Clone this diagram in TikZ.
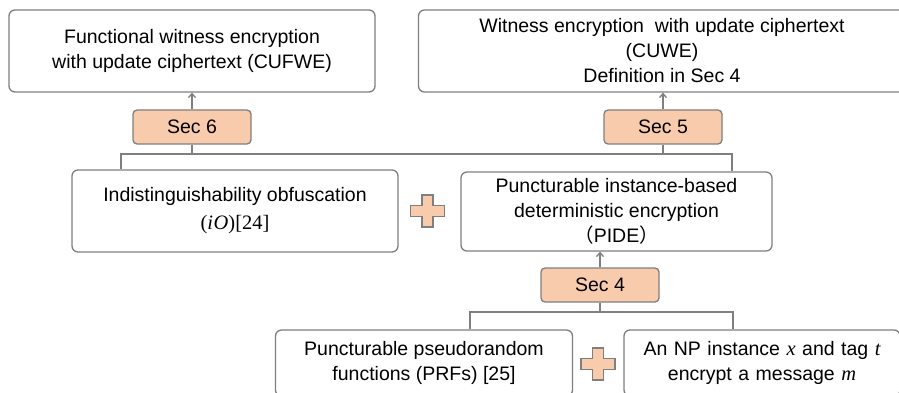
\documentclass[tikz,border=0pt]{standalone}
\usepackage{fontspec}
\setmainfont{Liberation Sans}
\newfontfamily\cjk{Noto Sans CJK SC}
\newfontfamily\mth[Scale=1.05]{Liberation Serif}
\newcommand{\mv}[1]{{\mth\itshape #1}}
\usetikzlibrary{arrows.meta}
\definecolor{peach}{HTML}{F8CBAD}
\definecolor{edgegray}{HTML}{7F7F7F}
\tikzset{
  box/.style={draw=edgegray, line width=1.3pt, rounded corners=6pt, fill=white, align=center, inner sep=0pt,
    font=\fontsize{19.5}{25}\selectfont},
  secbox/.style={draw=edgegray, line width=1.3pt, rounded corners=4pt, fill=peach, align=center, inner sep=0pt,
    minimum width=118pt, minimum height=34pt, font=\fontsize{19.5}{25}\selectfont},
  conn/.style={draw=edgegray, line width=1.3pt},
  arr/.style={conn, -{Straight Barb[length=4pt,width=7pt]}},
  plusst/.style={draw=edgegray, line width=1.2pt, fill=peach},
}
\begin{document}
\begin{tikzpicture}[x=1pt,y=-1pt]
\useasboundingbox (0,0) rectangle (899,393);
\clip (0,0) rectangle (899,393);
% top boxes
\node[box, minimum width=366pt, minimum height=82pt] (A) at (192,51)
  {Functional witness encryption\\with update ciphertext (CUFWE)};
\node[box, minimum width=487pt, minimum height=82pt] (B) at (662,51)
  {Witness encryption\ \ with update ciphertext\\(CUWE)\\Definition in Sec 4};
% sec boxes
\node[secbox] (s6) at (192,127) {Sec 6};
\node[secbox] (s5) at (663,127) {Sec 5};
\node[secbox] (s4) at (600,285) {Sec 4};
% middle boxes
\node[box, minimum width=326pt, minimum height=82pt] (C) at (235,211)
  {Indistinguishability obfuscation\\[3pt]{\mth(\textit{i\kern0.5ptO})[24]}};
\node[box, minimum width=311pt, minimum height=79pt] (D) at (616.5,211.5)
  {Puncturable instance-based\\deterministic encryption\\{\cjk （}PIDE{\cjk ）}};
% bottom boxes
\node[box, minimum width=297pt, minimum height=66pt] (E) at (424,363)
  {Puncturable pseudorandom\\functions (PRFs) [25]};
\node[box, minimum width=276pt, minimum height=66pt, text width=276pt] (F) at (762,363)
  {An NP instance \mv{x} and tag \mv{t}\\encrypt a message \mv{m}};
% arrows
\draw[arr] (s6.north) -- (A.south);
\draw[arr] (s5.north) -- (s5.north |- B.south);
\draw[arr] (s4.north) -- (s4.north |- D.south);
% tree 1
\coordinate (x1) at (121,154);
\coordinate (x2) at (732,154);
\draw[conn] (s6.south) -- (s6.south |- x1);
\draw[conn] (s5.south) -- (s5.south |- x1);
\draw[conn] (C.north -| x1) -- (x1) -- (x2) -- (D.north -| x2);
% tree 2
\coordinate (x3) at (470,312);
\coordinate (x4) at (733,312);
\draw[conn] (s4.south) -- (s4.south |- x3);
\draw[conn] (E.north -| x3) -- (x3) -- (x4) -- (F.north -| x4);
% plus signs
\foreach \name/\cx/\cy in {p1/427.5/211, p2/598/364}{
  \draw[plusst, shift={(\cx,\cy)}] (-5.5,-16) -- (5.5,-16) -- (5.5,-5.5) -- (17,-5.5) -- (17,5.5) -- (5.5,5.5)
    -- (5.5,16) -- (-5.5,16) -- (-5.5,5.5) -- (-17,5.5) -- (-17,-5.5) -- (-5.5,-5.5) -- cycle;
}
\end{tikzpicture}
\end{document}
